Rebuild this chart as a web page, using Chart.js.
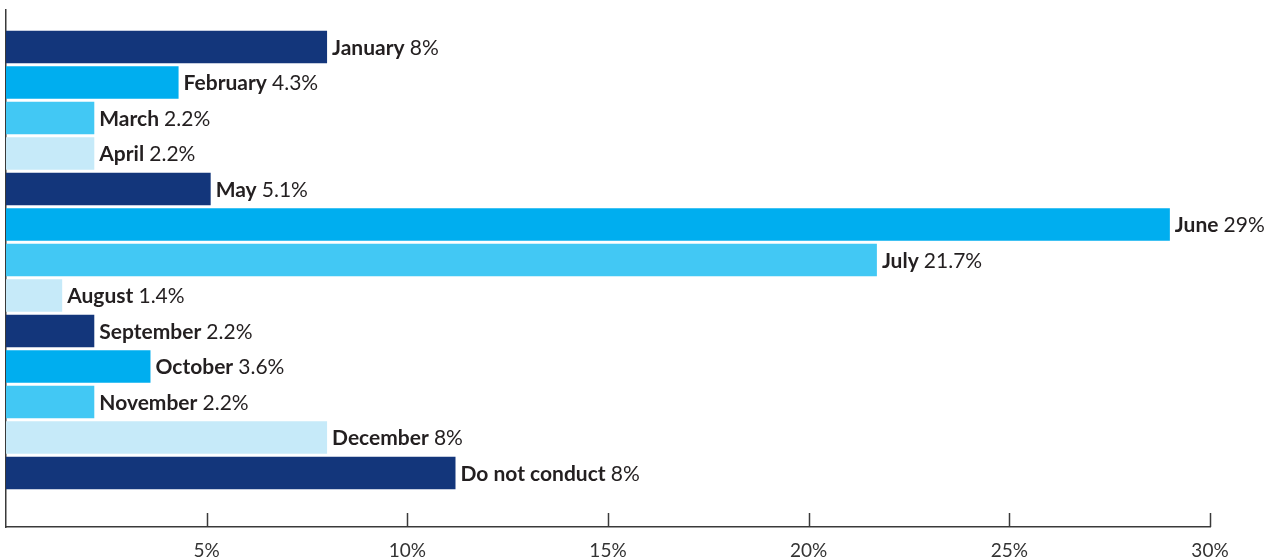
<!DOCTYPE html>
<html>
<head>
<meta charset="utf-8">
<script src="https://cdn.jsdelivr.net/npm/chart.js@4"></script>
<style>
  html, body { margin: 0; padding: 0; background: #fff; }
  #wrap { width: 1273px; height: 560px; }
</style>
</head>
<body>
<div id="wrap"><canvas id="myChart"></canvas></div>
<script>
    // data
    const months = ['January', 'February', 'March', 'April', 'May', 'June', 'July',
                    'August', 'September', 'October', 'November', 'December', 'Do not conduct'];
    // bar lengths as drawn (%)
    const values = [8, 4.3, 2.2, 2.2, 5.1, 29, 21.7, 1.4, 2.2, 3.6, 2.2, 8, 11.2];
    // value text printed next to each bar
    const valueLabels = ['8%', '4.3%', '2.2%', '2.2%', '5.1%', '29%', '21.7%',
                         '1.4%', '2.2%', '3.6%', '2.2%', '8%', '8%'];
    const xTicks = [5, 10, 15, 20, 25, 30];

    const palette = ['#13367b', '#00aeef', '#42c8f4', '#c6eaf9'];
    const axisColor = '#3a3a3a';
    const textColor = '#231f20';
    const fontFamily = 'Lato, "Open Sans", sans-serif';

    const data = {
      datasets: [
        {
          data: values.map((v, i) => ({ x: v, y: i })),
          backgroundColor: values.map((v, i) => palette[i % palette.length]),
          borderWidth: 0,
          categoryPercentage: 1,
          barPercentage: 0.915,
        },
      ],
    };

    // month name + value next to each bar
    const barLabels = {
      id: 'barLabels',
      afterDatasetsDraw(chart) {
        const { ctx } = chart;
        const meta = chart.getDatasetMeta(0);
        ctx.save();
        ctx.textBaseline = 'middle';
        ctx.textAlign = 'left';
        ctx.fillStyle = textColor;
        meta.data.forEach((bar, i) => {
          const x = bar.x + 5;
          const y = bar.y + 1;
          ctx.font = 'bold 21px ' + fontFamily;
          ctx.fillText(months[i], x, y);
          const w = ctx.measureText(months[i] + ' ').width;
          ctx.font = '21px ' + fontFamily;
          ctx.fillText(valueLabels[i], x + w, y);
        });
        ctx.restore();
      },
    };

    // short tick marks pointing up from the x axis
    const innerTicks = {
      id: 'innerTicks',
      afterDraw(chart) {
        const { ctx, chartArea: { bottom }, scales: { x } } = chart;
        ctx.save();
        ctx.strokeStyle = axisColor;
        ctx.lineWidth = 1.5;
        xTicks.forEach((t) => {
          const px = Math.round(x.getPixelForValue(t)) + 0.5;
          ctx.beginPath();
          ctx.moveTo(px, bottom);
          ctx.lineTo(px, bottom - 14);
          ctx.stroke();
        });
        ctx.restore();
      },
    };

    const config = {
      type: 'bar',
      data,
      options: {
        indexAxis: 'y',
        responsive: true,
        maintainAspectRatio: false,
        animation: false,
        layout: { padding: { left: 6, right: 63, top: 10, bottom: 0 } },
        plugins: {
          legend: { display: false },
          tooltip: { enabled: false },
        },
        scales: {
          x: {
            type: 'linear',
            min: 0,
            max: 30,
            grid: { display: false, drawTicks: false },
            border: { display: true, color: axisColor, width: 1.5 },
            afterBuildTicks: (scale) => {
              scale.ticks = xTicks.map((v) => ({ value: v }));
            },
            afterFit: (scale) => {
              scale.height = 33;
            },
            ticks: {
              padding: 14,
              color: '#333',
              font: { family: fontFamily, size: 19, lineHeight: 1 },
              callback: (v) => v + '%',
            },
          },
          y: {
            type: 'linear',
            reverse: true,
            offset: false,
            min: -1.04,
            max: 13.52,
            grid: { display: false, drawTicks: false, offset: false },
            border: { display: true, color: axisColor, width: 1.5 },
            ticks: { display: false },
          },
        },
      },
      plugins: [barLabels, innerTicks],
    };

    const myChart = new Chart(document.getElementById('myChart'), config);
</script>
</body>
</html>
